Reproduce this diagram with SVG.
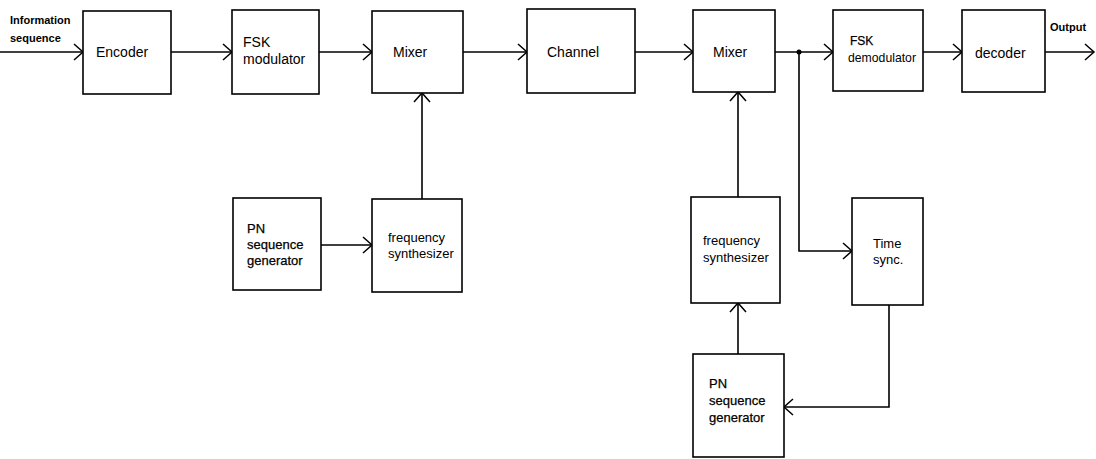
<svg xmlns="http://www.w3.org/2000/svg" width="1096" height="459" viewBox="0 0 1096 459">
<style>
.box{fill:#fff;stroke:#000;stroke-width:1.6}
.t{font-family:"Liberation Sans",Arial,sans-serif;font-size:14px;fill:#000}
.s{font-family:"Liberation Sans",Arial,sans-serif;font-size:13px;fill:#000}
.b{font-family:"Liberation Sans",Arial,sans-serif;font-size:11px;font-weight:bold;fill:#000}
.pn{font-family:"Liberation Sans",Arial,sans-serif;font-size:13px;fill:#000;stroke:#000;stroke-width:0.25}
.c{fill:none;stroke:#000;stroke-width:1.6}
</style>
<defs>
<marker id="arr" viewBox="-11 -10 13 20" markerWidth="13" markerHeight="20" refX="0" refY="0" orient="auto" markerUnits="userSpaceOnUse">
<path d="M-9,-8 L0,0 L-9,8" fill="none" stroke="#000" stroke-width="1.5"/>
</marker>
</defs>
<rect width="1096" height="459" fill="#fff"/>
<g id="connectors">
<path class="c" d="M0,52 H83" marker-end="url(#arr)"/>
<path class="c" d="M171,52 H232" marker-end="url(#arr)"/>
<path class="c" d="M319,52 H372" marker-end="url(#arr)"/>
<path class="c" d="M463,52 H527" marker-end="url(#arr)"/>
<path class="c" d="M635,52 H693" marker-end="url(#arr)"/>
<path class="c" d="M775,52 H833" marker-end="url(#arr)"/>
<path class="c" d="M923,52 H962" marker-end="url(#arr)"/>
<path class="c" d="M1045,52 H1094" marker-end="url(#arr)"/>
<path class="c" d="M422,199 V93" marker-end="url(#arr)"/>
<path class="c" d="M321,245 H372" marker-end="url(#arr)"/>
<path class="c" d="M738,197 V92" marker-end="url(#arr)"/>
<path class="c" d="M799,52 V251 H852" marker-end="url(#arr)"/>
<path class="c" d="M889,305 V407 H784" marker-end="url(#arr)"/>
<path class="c" d="M738,354 V303" marker-end="url(#arr)"/>
<circle cx="799" cy="52" r="2.5" fill="#000"/>
</g>
<g id="input-label"><text class="b" x="10" y="24">Information</text><text class="b" x="10" y="42">sequence</text></g>
<g id="encoder"><rect class="box" x="83" y="11" width="88" height="83"/><text class="t" x="96" y="57">Encoder</text></g>
<g id="fsk-mod"><rect class="box" x="232" y="10" width="87" height="84"/><text class="t" x="243" y="47">FSK</text><text class="t" x="243" y="64">modulator</text></g>
<g id="mixer1"><rect class="box" x="372" y="11" width="91" height="82"/><text class="t" x="393" y="57">Mixer</text></g>
<g id="channel"><rect class="box" x="527" y="9" width="108" height="84"/><text class="t" x="547" y="57">Channel</text></g>
<g id="mixer2"><rect class="box" x="693" y="10" width="82" height="82"/><text class="t" x="713" y="57">Mixer</text></g>
<g id="fsk-demod"><rect class="box" x="833" y="10" width="90" height="81"/><text class="pn" x="850" y="45" style="font-size:12px">FSK</text><text class="s" x="848" y="62" textLength="68" lengthAdjust="spacingAndGlyphs">demodulator</text></g>
<g id="decoder"><rect class="box" x="962" y="10" width="83" height="82"/><text class="t" x="975" y="58">decoder</text></g>
<g id="output-label"><text class="b" x="1050" y="31">Output</text></g>
<g id="pn1"><rect class="box" x="233" y="198" width="88" height="92"/><text class="pn" x="247" y="233">PN</text><text class="pn" x="247" y="249">sequence</text><text class="pn" x="247" y="265">generator</text></g>
<g id="synth1"><rect class="box" x="372" y="199" width="90" height="93"/><text class="s" x="388" y="242">frequency</text><text class="s" x="388" y="258">synthesizer</text></g>
<g id="synth2"><rect class="box" x="691" y="197" width="89" height="106"/><text class="s" x="703" y="245">frequency</text><text class="s" x="703" y="262">synthesizer</text></g>
<g id="timesync"><rect class="box" x="852" y="198" width="71" height="107"/><text class="s" x="873" y="248">Time</text><text class="s" x="873" y="264">sync.</text></g>
<g id="pn2"><rect class="box" x="693" y="354" width="91" height="103"/><text class="pn" x="709" y="388">PN</text><text class="pn" x="709" y="405">sequence</text><text class="pn" x="709" y="422">generator</text></g>
</svg>
